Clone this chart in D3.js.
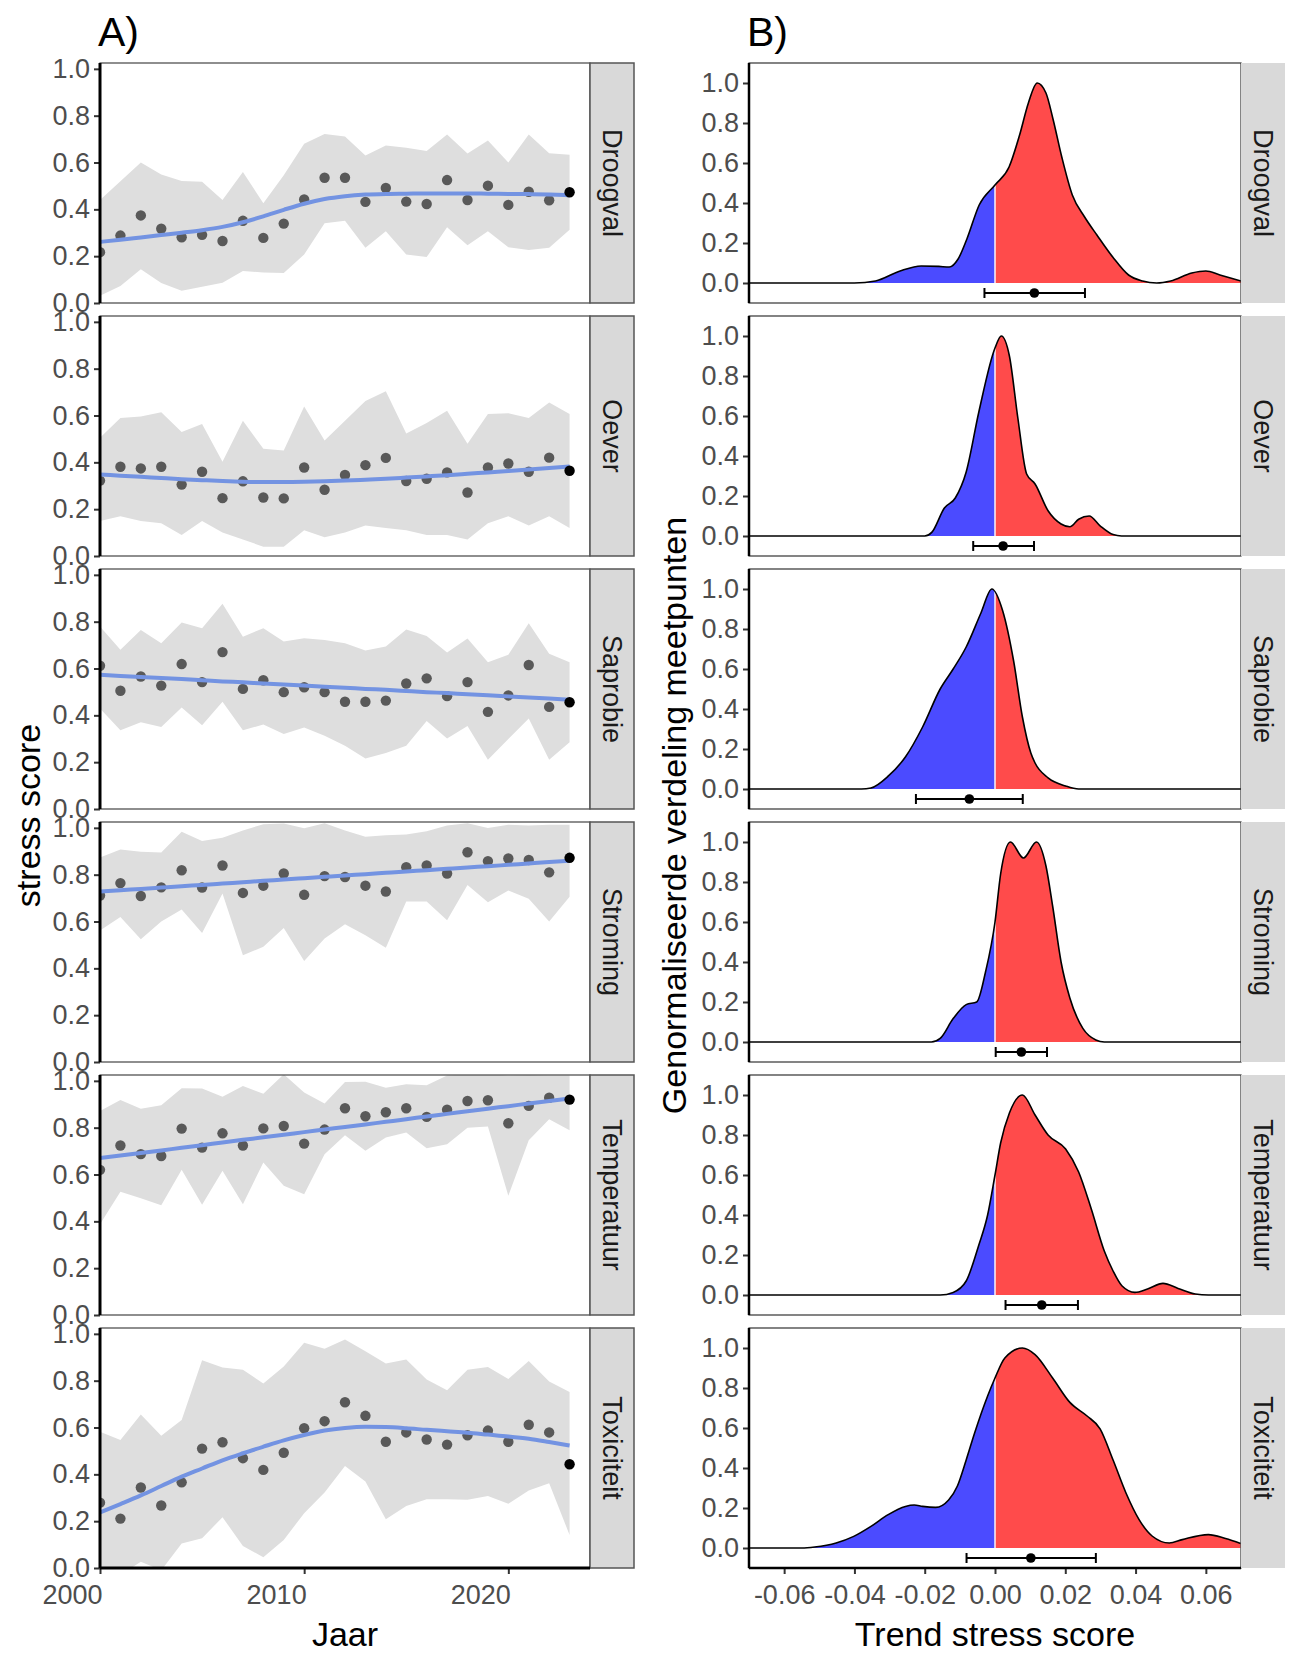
<!DOCTYPE html>
<html>
<head>
<meta charset="utf-8">
<title>Stress score trends</title>
<script src="https://cdn.jsdelivr.net/npm/d3@7"></script>
<style>
  body { margin: 0; background: #fff; }
  svg text { font-family: "Liberation Sans", Arial, sans-serif; }
</style>
</head>
<body>
<svg id="chart"></svg>
<script>
// ---- data ----
var facets = ["Droogval", "Oever", "Saprobie", "Stroming", "Temperatuur", "Toxiciteit"];
var years = [2000, 2001, 2002, 2003, 2004, 2005, 2006, 2007, 2008, 2009, 2010, 2011,
             2012, 2013, 2014, 2015, 2016, 2017, 2018, 2019, 2020, 2021, 2022, 2023];
var yearTicks = [2000, 2010, 2020];
var scoreTicks = [0, 0.2, 0.4, 0.6, 0.8, 1.0];
var trendTicks = [-0.06, -0.04, -0.02, 0, 0.02, 0.04, 0.06];

var droogvalScore  = [0.217,0.288,0.374,0.317,0.281,0.291,0.265,0.351,0.278,0.339,0.442,0.535,0.535,0.432,0.491,0.433,0.423,0.525,0.440,0.501,0.419,0.475,0.439,0.473];
var droogvalLow    = [0.031,0.073,0.144,0.085,0.052,0.069,0.087,0.137,0.130,0.128,0.207,0.341,0.351,0.236,0.306,0.207,0.196,0.323,0.247,0.306,0.238,0.226,0.236,0.313];
var droogvalHigh   = [0.440,0.520,0.600,0.549,0.521,0.518,0.440,0.560,0.426,0.546,0.680,0.722,0.711,0.630,0.673,0.663,0.649,0.720,0.638,0.694,0.600,0.720,0.640,0.633];
var droogvalSmooth = [0.261,0.270,0.280,0.290,0.300,0.311,0.325,0.345,0.370,0.398,0.424,0.444,0.456,0.463,0.466,0.467,0.468,0.468,0.468,0.467,0.466,0.465,0.463,0.460];

var oeverScore  = [0.322,0.381,0.374,0.381,0.305,0.360,0.247,0.319,0.250,0.246,0.378,0.283,0.346,0.388,0.419,0.320,0.330,0.357,0.271,0.378,0.395,0.360,0.420,0.364];
var oeverLow    = [0.150,0.170,0.150,0.140,0.090,0.150,0.100,0.070,0.040,0.040,0.110,0.080,0.100,0.130,0.120,0.110,0.090,0.090,0.070,0.140,0.170,0.130,0.170,0.120];
var oeverHigh   = [0.505,0.589,0.596,0.614,0.530,0.564,0.402,0.578,0.458,0.451,0.638,0.493,0.578,0.662,0.704,0.523,0.568,0.620,0.479,0.606,0.610,0.589,0.656,0.606];
var oeverSmooth = [0.348,0.343,0.338,0.333,0.328,0.324,0.320,0.317,0.316,0.316,0.317,0.319,0.322,0.326,0.330,0.335,0.340,0.345,0.351,0.357,0.363,0.369,0.376,0.382];

var saprobieScore  = [0.612,0.505,0.566,0.527,0.619,0.542,0.670,0.513,0.550,0.499,0.520,0.499,0.458,0.458,0.463,0.536,0.558,0.482,0.542,0.415,0.485,0.615,0.436,0.456];
var saprobieLow    = [0.429,0.336,0.370,0.350,0.434,0.358,0.458,0.336,0.361,0.320,0.348,0.313,0.270,0.216,0.239,0.270,0.376,0.301,0.355,0.210,0.299,0.386,0.210,0.285];
var saprobieHigh   = [0.779,0.680,0.765,0.708,0.797,0.772,0.877,0.736,0.772,0.715,0.729,0.722,0.708,0.677,0.694,0.767,0.739,0.668,0.728,0.627,0.659,0.793,0.663,0.627];
var saprobieSmooth = [0.573,0.568,0.564,0.559,0.555,0.550,0.545,0.541,0.536,0.532,0.527,0.522,0.518,0.513,0.509,0.504,0.499,0.495,0.490,0.486,0.481,0.476,0.472,0.467];

var stromingScore  = [0.711,0.764,0.709,0.746,0.819,0.745,0.839,0.722,0.753,0.805,0.714,0.794,0.790,0.753,0.728,0.832,0.839,0.805,0.896,0.858,0.869,0.863,0.810,0.872];
var stromingLow    = [0.562,0.619,0.524,0.600,0.651,0.551,0.720,0.456,0.492,0.572,0.431,0.527,0.588,0.541,0.488,0.685,0.685,0.605,0.756,0.682,0.732,0.697,0.600,0.706];
var stromingHigh   = [0.873,0.908,0.898,0.895,0.983,0.944,0.958,0.989,1.015,1.019,0.998,1.020,0.989,0.962,0.968,0.972,0.986,1.010,1.020,0.999,1.013,1.010,1.013,1.013];
var stromingSmooth = [0.728,0.734,0.739,0.745,0.751,0.756,0.762,0.768,0.774,0.779,0.785,0.791,0.797,0.802,0.808,0.814,0.819,0.825,0.831,0.836,0.842,0.848,0.854,0.859];

var temperatuurScore  = [0.620,0.724,0.687,0.679,0.796,0.715,0.776,0.724,0.797,0.807,0.732,0.792,0.883,0.849,0.866,0.883,0.846,0.877,0.914,0.917,0.819,0.893,0.928,0.920];
var temperatuurLow    = [0.388,0.526,0.499,0.469,0.620,0.471,0.616,0.473,0.651,0.552,0.516,0.687,0.768,0.701,0.758,0.779,0.712,0.729,0.800,0.805,0.509,0.746,0.836,0.789];
var temperatuurHigh   = [0.871,0.918,0.881,0.896,0.968,0.967,0.932,0.978,0.945,1.028,0.950,0.903,0.995,0.996,0.971,0.985,0.981,1.023,1.028,1.028,1.023,1.025,1.023,1.023];
var temperatuurSmooth = [0.670,0.681,0.692,0.703,0.714,0.725,0.737,0.748,0.759,0.770,0.781,0.792,0.803,0.814,0.825,0.836,0.848,0.859,0.870,0.881,0.892,0.903,0.914,0.925];

var toxiciteitScore  = [0.279,0.211,0.344,0.267,0.366,0.510,0.537,0.469,0.419,0.492,0.597,0.627,0.708,0.650,0.539,0.579,0.549,0.527,0.567,0.587,0.539,0.612,0.579,0.443];
var toxiciteitLow    = [-0.050,-0.030,0.027,-0.010,0.105,0.127,0.217,0.094,0.046,0.120,0.234,0.322,0.436,0.369,0.208,0.265,0.294,0.294,0.291,0.308,0.274,0.331,0.362,0.141];
var toxiciteitHigh   = [0.582,0.547,0.656,0.565,0.632,0.887,0.856,0.847,0.788,0.861,0.962,0.936,0.976,0.926,0.873,0.890,0.805,0.759,0.847,0.858,0.807,0.884,0.797,0.752];
var toxiciteitSmooth = [0.237,0.273,0.310,0.350,0.390,0.425,0.460,0.490,0.518,0.545,0.568,0.587,0.598,0.603,0.602,0.597,0.590,0.584,0.578,0.570,0.562,0.552,0.538,0.523];

// normalised densities of the trend per measuring point: [trend, density]
var densDroogval = [[-0.070,0],[-0.040,0],[-0.034,0.01],[-0.027,0.06],[-0.021,0.085],[-0.016,0.083],[-0.013,0.08],[-0.0105,0.12],[-0.008,0.22],[-0.0045,0.39],[0,0.49],[0.004,0.58],[0.007,0.74],[0.0095,0.9],[0.012,1.0],[0.0145,0.95],[0.0165,0.82],[0.019,0.63],[0.022,0.44],[0.0255,0.33],[0.029,0.24],[0.0335,0.13],[0.038,0.04],[0.042,0.01],[0.046,0.0],[0.050,0.01],[0.056,0.05],[0.060,0.06],[0.064,0.04],[0.070,0.01]];
var densOever = [[-0.070,0],[-0.020,0],[-0.018,0.018],[-0.0144,0.14],[-0.0113,0.19],[-0.0082,0.32],[-0.0046,0.62],[0,0.94],[0.0018,1.0],[0.0041,0.90],[0.0065,0.59],[0.009,0.31],[0.0114,0.26],[0.0151,0.126],[0.0188,0.06],[0.0213,0.046],[0.0238,0.084],[0.0268,0.10],[0.0299,0.051],[0.0336,0.007],[0.036,0],[0.070,0]];
var densSaprobie = [[-0.070,0],[-0.038,0],[-0.0353,0.005],[-0.0304,0.064],[-0.0255,0.16],[-0.0206,0.31],[-0.0156,0.5],[-0.0119,0.6],[-0.0082,0.71],[-0.004,0.88],[-0.0009,1.0],[0.0022,0.89],[0.0053,0.64],[0.0078,0.36],[0.0102,0.18],[0.0114,0.13],[0.0151,0.056],[0.0201,0.015],[0.0238,0],[0.070,0]];
var densStroming = [[-0.070,0],[-0.0181,0],[-0.0156,0.018],[-0.0119,0.117],[-0.0082,0.187],[-0.0052,0.2],[-0.0027,0.35],[0,0.6],[0.0016,0.84],[0.0044,1.0],[0.0081,0.92],[0.0118,1.0],[0.0145,0.88],[0.0164,0.68],[0.0188,0.4],[0.0213,0.22],[0.025,0.068],[0.0287,0.01],[0.0311,0],[0.070,0]];
var densTemperatuur = [[-0.070,0],[-0.0156,0],[-0.0119,0.013],[-0.0082,0.07],[-0.0046,0.25],[-0.0021,0.4],[0,0.6],[0.0016,0.76],[0.0041,0.91],[0.0078,1.0],[0.0114,0.9],[0.0151,0.8],[0.0201,0.73],[0.0238,0.615],[0.0274,0.43],[0.0311,0.22],[0.0336,0.12],[0.0361,0.046],[0.0398,0.013],[0.0434,0.03],[0.0478,0.058],[0.0521,0.033],[0.057,0.005],[0.0607,0],[0.070,0]];
var densToxiciteit = [[-0.070,0],[-0.055,0],[-0.0513,0.005],[-0.0452,0.025],[-0.0402,0.058],[-0.0353,0.108],[-0.0304,0.167],[-0.0255,0.208],[-0.023,0.215],[-0.0206,0.208],[-0.0169,0.203],[-0.0132,0.24],[-0.0107,0.31],[-0.0082,0.44],[-0.0058,0.575],[-0.0021,0.76],[0,0.85],[0.0028,0.95],[0.0078,1.0],[0.0114,0.967],[0.0164,0.85],[0.0213,0.728],[0.0262,0.66],[0.0299,0.596],[0.0336,0.44],[0.0373,0.274],[0.041,0.142],[0.0447,0.06],[0.0496,0.025],[0.0533,0.042],[0.0607,0.067],[0.0656,0.047],[0.0699,0.022]];

// mean trend with interval, one per facet
var trendLow  = [-0.0030, -0.0062, -0.0225, 0.0002, 0.0030, -0.0081];
var trendMean = [ 0.0112,  0.0023, -0.0073, 0.0075, 0.0133,  0.0102];
var trendHigh = [ 0.0256,  0.0111,  0.0079, 0.0148, 0.0236,  0.0287];

// ---- table built from the arrays ----
var scoreSeries  = [droogvalScore, oeverScore, saprobieScore, stromingScore, temperatuurScore, toxiciteitScore];
var lowSeries    = [droogvalLow, oeverLow, saprobieLow, stromingLow, temperatuurLow, toxiciteitLow];
var highSeries   = [droogvalHigh, oeverHigh, saprobieHigh, stromingHigh, temperatuurHigh, toxiciteitHigh];
var smoothSeries = [droogvalSmooth, oeverSmooth, saprobieSmooth, stromingSmooth, temperatuurSmooth, toxiciteitSmooth];
var densSeries   = [densDroogval, densOever, densSaprobie, densStroming, densTemperatuur, densToxiciteit];

var rows = facets.map(function(name, i) {
  return {
    name: name,
    years: years.map(function(yr, j) {
      return { year: yr, score: scoreSeries[i][j], low: lowSeries[i][j],
               high: highSeries[i][j], smooth: smoothSeries[i][j] };
    }),
    dens: densSeries[i],
    low: trendLow[i], mean: trendMean[i], high: trendHigh[i]
  };
});

// ---- layout ----
var W = 1299, H = 1663;
var panelA = { left: 100, right: 590 },
    panelB = { left: 749, right: 1241 };
var stripW = 44, top0 = 63, rowStep = 253, rowH = 240;
var tickFont = 27, titleFont = 34;

var svg = d3.select("#chart").attr("width", W).attr("height", H);
var defs = svg.append("defs");

var xYear = d3.scaleLinear().domain([2000, 2024]).range([panelA.left, panelA.right]);
var xTrend = d3.scaleLinear().domain([-0.07, 0.07]).range([panelB.left, panelB.right]);

var fmtMinus = function(f) { return function(d) { return f(d).replace("\u2212", "-"); }; };

/** ggplot-ish styling of an axis group **/
function styleAxis(g) {
  g.select(".domain").remove();
  g.selectAll(".tick line").attr("stroke", "#333").attr("stroke-width", 2);
  g.selectAll(".tick text")
    .attr("fill", "#4d4d4d")
    .style("font-size", tickFont + "px");
}

function drawStrip(x, top, name, bordered) {
  svg.append("rect")
    .attr("x", x).attr("y", top).attr("width", stripW).attr("height", rowH)
    .attr("fill", "#d9d9d9")
    .attr("stroke", bordered ? "#555" : "none").attr("stroke-width", 1.5);
  svg.append("text")
    .attr("transform", "translate(" + (x + stripW / 2) + "," + (top + rowH / 2) + ") rotate(90)")
    .attr("text-anchor", "middle").attr("dy", "0.35em")
    .attr("fill", "#1a1a1a").style("font-size", tickFont + "px")
    .text(name);
}

rows.forEach(function(row, i) {
  var top = top0 + i * rowStep, bottom = top + rowH;
  var isLast = i === rows.length - 1;

  // ===== A) score per year =====
  var yScore = d3.scaleLinear().domain([0, 1.025]).range([bottom, top]);

  defs.append("clipPath").attr("id", "clipA" + i)
    .append("rect").attr("x", panelA.left).attr("y", top)
    .attr("width", panelA.right - panelA.left).attr("height", rowH);

  var gA = svg.append("g").attr("clip-path", "url(#clipA" + i + ")");

  gA.append("path")
    .datum(row.years)
    .attr("fill", "#dedede")
    .attr("d", d3.area()
      .x(function(d) { return xYear(d.year); })
      .y0(function(d) { return yScore(d.low); })
      .y1(function(d) { return yScore(d.high); }));

  gA.selectAll("circle.pt")
    .data(row.years.slice(0, -1))
    .enter().append("circle")
    .attr("class", "pt")
    .attr("cx", function(d) { return xYear(d.year); })
    .attr("cy", function(d) { return yScore(d.score); })
    .attr("r", 5.2)
    .attr("fill", "#595959");

  gA.append("path")
    .datum(row.years)
    .attr("fill", "none")
    .attr("stroke", "#7393e2")
    .attr("stroke-width", 4)
    .attr("d", d3.line()
      .curve(d3.curveMonotoneX)
      .x(function(d) { return xYear(d.year); })
      .y(function(d) { return yScore(d.smooth); }));

  // latest year highlighted in black
  var lastYear = row.years[row.years.length - 1];
  gA.append("circle")
    .attr("cx", xYear(lastYear.year))
    .attr("cy", yScore(lastYear.score))
    .attr("r", 5.2)
    .attr("fill", "#000");

  svg.append("rect")
    .attr("x", panelA.left).attr("y", top)
    .attr("width", panelA.right - panelA.left).attr("height", rowH)
    .attr("fill", "none").attr("stroke", "#444").attr("stroke-width", 1.2);

  svg.append("g")
    .attr("transform", "translate(" + panelA.left + ",0)")
    .call(d3.axisLeft(yScore).tickValues(scoreTicks).tickFormat(d3.format(".1f")).tickSize(6).tickPadding(4))
    .call(styleAxis);

  svg.append("line")
    .attr("x1", panelA.left).attr("x2", panelA.left)
    .attr("y1", top).attr("y2", bottom)
    .attr("stroke", "#000").attr("stroke-width", 3);

  drawStrip(panelA.right, top, row.name, true);

  // ===== B) distribution of the trend =====
  var yDens = d3.scaleLinear().domain([-0.1, 1.1]).range([bottom, top]);
  var x0 = xTrend(0);

  defs.append("clipPath").attr("id", "clipB" + i)
    .append("rect").attr("x", panelB.left).attr("y", top)
    .attr("width", panelB.right - panelB.left).attr("height", rowH);
  defs.append("clipPath").attr("id", "clipNeg" + i)
    .append("rect").attr("x", panelB.left).attr("y", top)
    .attr("width", x0 - 0.7 - panelB.left).attr("height", rowH);
  defs.append("clipPath").attr("id", "clipPos" + i)
    .append("rect").attr("x", x0 + 0.7).attr("y", top)
    .attr("width", panelB.right - x0 - 0.7).attr("height", rowH);

  var gB = svg.append("g").attr("clip-path", "url(#clipB" + i + ")");

  var densArea = d3.area()
    .curve(d3.curveMonotoneX)
    .x(function(d) { return xTrend(d[0]); })
    .y0(yDens(0))
    .y1(function(d) { return yDens(d[1]); });

  gB.append("path").datum(row.dens)
    .attr("clip-path", "url(#clipNeg" + i + ")")
    .attr("fill", "#4b4bff").attr("d", densArea);
  gB.append("path").datum(row.dens)
    .attr("clip-path", "url(#clipPos" + i + ")")
    .attr("fill", "#ff4b4b").attr("d", densArea);

  gB.append("path").datum(row.dens)
    .attr("fill", "none").attr("stroke", "#000").attr("stroke-width", 1.6)
    .attr("d", d3.line()
      .curve(d3.curveMonotoneX)
      .x(function(d) { return xTrend(d[0]); })
      .y(function(d) { return yDens(d[1]); }));

  // mean trend with interval
  var yErr = yDens(-0.05), cap = 5;
  gB.append("line")
    .attr("x1", xTrend(row.low)).attr("x2", xTrend(row.high))
    .attr("y1", yErr).attr("y2", yErr)
    .attr("stroke", "#000").attr("stroke-width", 2);
  [row.low, row.high].forEach(function(v) {
    gB.append("line")
      .attr("x1", xTrend(v)).attr("x2", xTrend(v))
      .attr("y1", yErr - cap).attr("y2", yErr + cap)
      .attr("stroke", "#000").attr("stroke-width", 2);
  });
  gB.append("circle")
    .attr("cx", xTrend(row.mean)).attr("cy", yErr).attr("r", 4.8).attr("fill", "#000");

  svg.append("rect")
    .attr("x", panelB.left).attr("y", top)
    .attr("width", panelB.right - panelB.left).attr("height", rowH)
    .attr("fill", "none").attr("stroke", "#333").attr("stroke-width", 1.2);

  svg.append("g")
    .attr("transform", "translate(" + panelB.left + ",0)")
    .call(d3.axisLeft(yDens).tickValues(scoreTicks).tickFormat(d3.format(".1f")).tickSize(6).tickPadding(4))
    .call(styleAxis);

  svg.append("line")
    .attr("x1", panelB.left).attr("x2", panelB.left)
    .attr("y1", top).attr("y2", bottom)
    .attr("stroke", "#000").attr("stroke-width", 2.5);

  drawStrip(panelB.right, top, row.name, false);

  if (isLast) {
    // year labels end at their tick, as in the original
    svg.append("g")
      .attr("transform", "translate(0," + bottom + ")")
      .call(d3.axisBottom(xYear).tickValues(yearTicks).tickFormat(d3.format("d")).tickSize(6).tickPadding(11))
      .call(styleAxis)
      .selectAll(".tick text").attr("text-anchor", "end").attr("dx", 2);
    svg.append("line")
      .attr("x1", panelA.left).attr("x2", panelA.right)
      .attr("y1", bottom).attr("y2", bottom)
      .attr("stroke", "#000").attr("stroke-width", 3);

    svg.append("g")
      .attr("transform", "translate(0," + bottom + ")")
      .call(d3.axisBottom(xTrend).tickValues(trendTicks).tickFormat(fmtMinus(d3.format(".2f"))).tickSize(6).tickPadding(11))
      .call(styleAxis);
    svg.append("line")
      .attr("x1", panelB.left).attr("x2", panelB.right)
      .attr("y1", bottom).attr("y2", bottom)
      .attr("stroke", "#000").attr("stroke-width", 2.5);
  }
});

// ---- titles ----
var plotBottom = top0 + (rows.length - 1) * rowStep + rowH;
var midY = (top0 + plotBottom) / 2;

svg.append("text").attr("x", panelA.left - 2).attr("y", 46)
  .style("font-size", "41px").attr("fill", "#000").text("A)");
svg.append("text").attr("x", panelB.left - 2).attr("y", 46)
  .style("font-size", "41px").attr("fill", "#000").text("B)");

svg.append("text")
  .attr("x", (panelA.left + panelA.right) / 2).attr("y", plotBottom + 78)
  .attr("text-anchor", "middle").style("font-size", titleFont + "px").text("Jaar");
svg.append("text")
  .attr("x", (panelB.left + panelB.right) / 2).attr("y", plotBottom + 78)
  .attr("text-anchor", "middle").style("font-size", titleFont + "px").text("Trend stress score");

svg.append("text")
  .attr("transform", "translate(40," + midY + ") rotate(-90)")
  .attr("text-anchor", "middle").style("font-size", titleFont + "px").text("stress score");
svg.append("text")
  .attr("transform", "translate(686," + midY + ") rotate(-90)")
  .attr("text-anchor", "middle").style("font-size", titleFont + "px").text("Genormaliseerde verdeling meetpunten");
</script>
</body>
</html>
